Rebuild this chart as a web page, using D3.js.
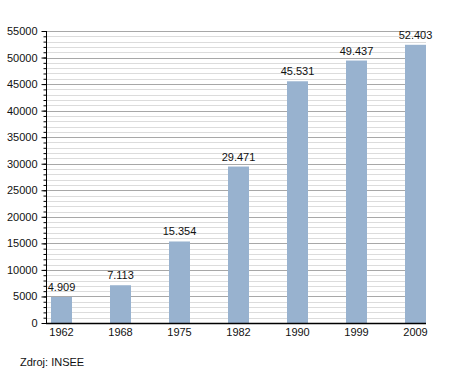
<!DOCTYPE html>
<html>
<head>
<meta charset="utf-8">
<script src="https://cdn.jsdelivr.net/npm/d3@7"></script>
<style>
  body { margin: 0; background: #fff; }
  text { font-family: "Liberation Sans", Arial, sans-serif; fill: #111; }
</style>
</head>
<body>
<svg id="chart" width="455" height="373"></svg>
<script>
// data
const years = ["1962", "1968", "1975", "1982", "1990", "1999", "2009"];
const population = [4909, 7113, 15354, 29471, 45531, 49437, 52403];
const valueLabels = ["4.909", "7.113", "15.354", "29.471", "45.531", "49.437", "52.403"];
const yMajorTicks = [0, 5000, 10000, 15000, 20000, 25000, 30000, 35000, 40000, 45000, 50000, 55000];
const sourceText = "Zdroj: INSEE";

// layout
const plotLeft = 46, plotRight = 426, plotTop = 31, plotBottom = 323;

const svg = d3.select("#chart");

const x = d3.scaleBand()
    .domain(years)
    .range([51, plotRight])
    .paddingInner(0.644)
    .paddingOuter(0);

const y = d3.scaleLinear()
    .domain([0, 55000])
    .range([plotBottom, plotTop]);

const minorTicks = d3.range(0, 55001, 1000);

// grid lines, minor first then major
svg.append("g")
    .selectAll("line")
    .data(minorTicks.filter(d => d % 5000 !== 0))
    .join("line")
      .attr("x1", plotLeft).attr("x2", plotRight)
      .attr("y1", d => Math.round(y(d)) + 0.5)
      .attr("y2", d => Math.round(y(d)) + 0.5)
      .attr("stroke", "#dcdcdc");

svg.append("g")
    .selectAll("line")
    .data(yMajorTicks.filter(d => d > 0))
    .join("line")
      .attr("x1", plotLeft).attr("x2", plotRight)
      .attr("y1", d => Math.round(y(d)) + 0.5)
      .attr("y2", d => Math.round(y(d)) + 0.5)
      .attr("stroke", "#a8a8a8");

// bars
svg.append("g")
    .selectAll("rect")
    .data(population)
    .join("rect")
      .attr("x", (d, i) => x(years[i]))
      .attr("y", d => y(d))
      .attr("width", x.bandwidth())
      .attr("height", d => plotBottom - y(d))
      .attr("fill", "#98b2cf");

// value labels
svg.append("g")
    .selectAll("text")
    .data(population)
    .join("text")
      .attr("x", (d, i) => x(years[i]) + x.bandwidth() / 2)
      .attr("y", d => y(d) - 6)
      .attr("text-anchor", "middle")
      .attr("font-size", 11)
      .text((d, i) => valueLabels[i]);

// y axis: minor ticks
svg.append("g")
    .attr("transform", `translate(${plotLeft + 0.5},0)`)
    .call(d3.axisLeft(y).tickValues(minorTicks).tickSize(3).tickFormat(""))
    .call(g => g.select(".domain").remove())
    .selectAll("line").attr("stroke", "#000");

// y axis: major ticks + labels
svg.append("g")
    .attr("transform", `translate(${plotLeft + 0.5},0)`)
    .call(d3.axisLeft(y).tickValues(yMajorTicks).tickSize(5).tickPadding(4).tickFormat(d3.format("d")))
    .call(g => g.select(".domain").attr("d", `M0,${plotTop}V${plotBottom}`).attr("stroke", "#000"))
    .call(g => g.selectAll("line").attr("stroke", "#000"))
    .call(g => g.selectAll("text").attr("font-size", 11).attr("fill", "#111")
        .attr("font-family", "Liberation Sans, Arial, sans-serif"));

// x axis
svg.append("g")
    .attr("transform", `translate(0,${plotBottom + 0.5})`)
    .call(d3.axisBottom(x).tickSize(0).tickPadding(5))
    .call(g => g.select(".domain").attr("d", `M${plotLeft},0H${plotRight}`).attr("stroke", "#000").attr("stroke-width", 1.5))
    .call(g => g.selectAll("text").attr("font-size", 11).attr("fill", "#111")
        .attr("font-family", "Liberation Sans, Arial, sans-serif"));

// source note
svg.append("text")
    .attr("x", 20)
    .attr("y", 366)
    .attr("font-size", 11)
    .text(sourceText);
</script>
</body>
</html>
